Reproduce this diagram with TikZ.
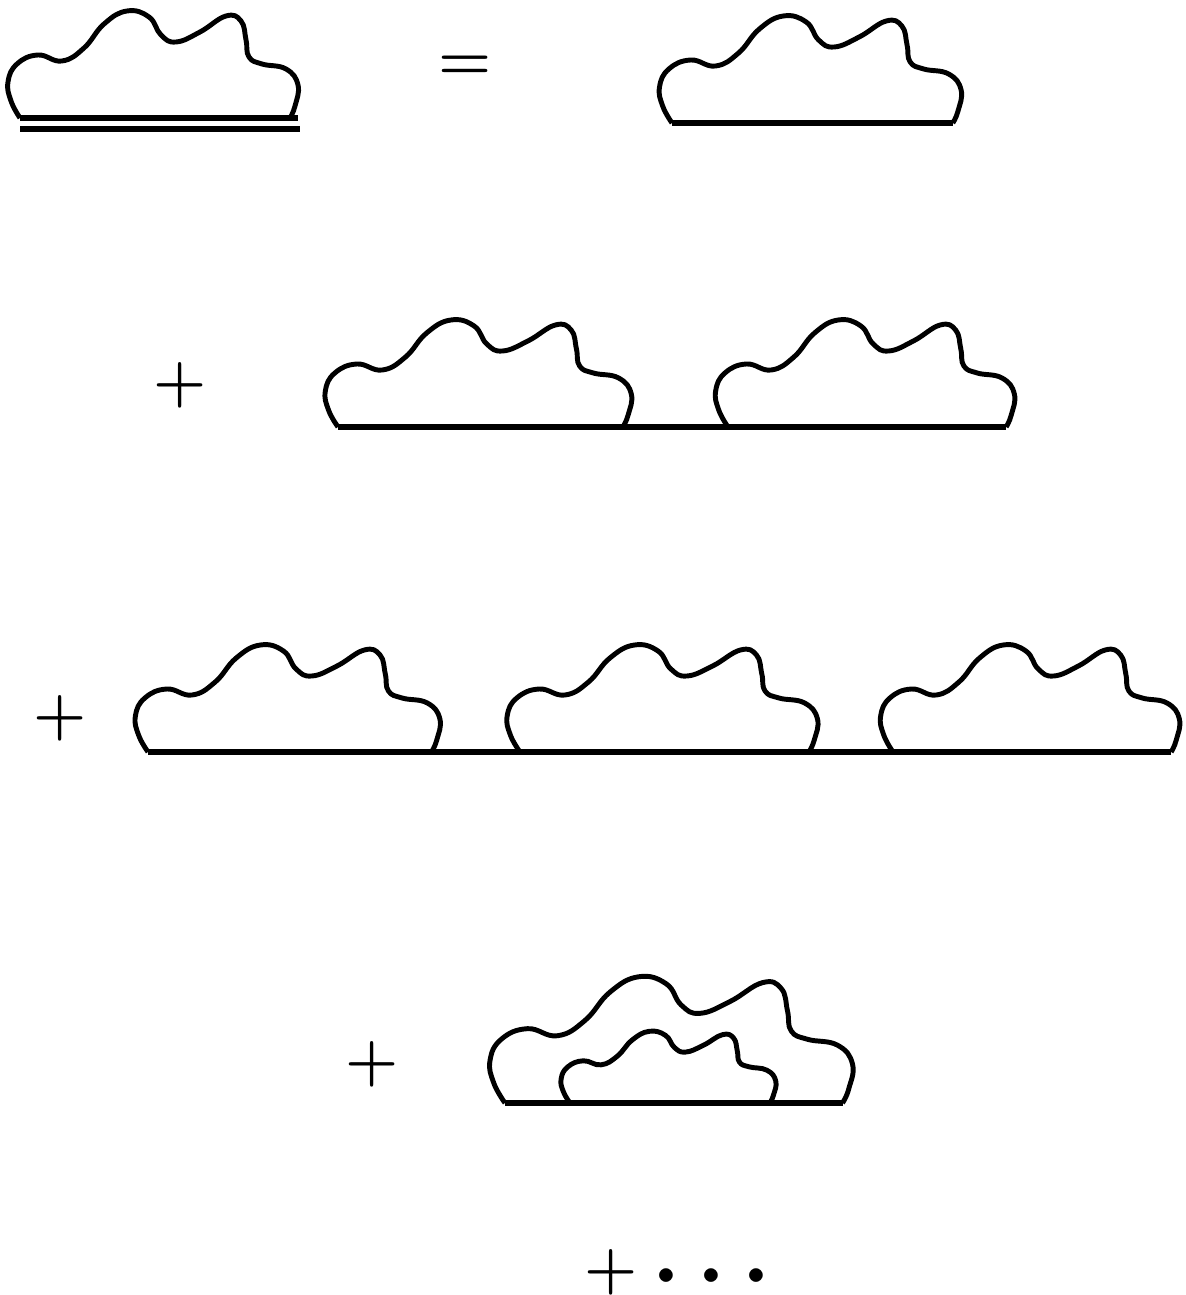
\documentclass[tikz,border=0pt]{standalone}
\usepackage{amsmath,amssymb}
\usepackage{tikz}
\usetikzlibrary{positioning}

\tikzset{
  cloud/.pic={
    \draw[line width=1.4pt, line join=round]
      plot[smooth, tension=0.75] coordinates {(0,0) (-9,-17) (-12,-36)
        (-3,-54) (18,-63) (42,-57) (64,-70) (84,-94) (107,-107)
        (129,-101) (141,-83) (156,-76) (180,-86) (206,-102)
        (221,-97) (226,-78) (229,-61) (242,-54) (266,-49) (278,-33)
        (275,-12) (270,0)};
    \coordinate (-l) at (0,0);
    \coordinate (-r) at (270,0);
  },
  sym/.style={font=\fontsize{17}{20}\selectfont\boldmath, inner sep=0pt},
  baseline/.style={line width=1.6pt}
}

\begin{document}
\begin{tikzpicture}[x=0.01cm, y=-0.01cm]
  \useasboundingbox (0,0) rectangle (1186,1295);

  % dressed line = bare line
  \pic (a1) at (20,118) {cloud};
  \draw[baseline] (a1-l) -- ([xshift=0.08cm]a1-r);
  \draw[baseline] ([yshift=-0.11cm]a1-l) -- ([yshift=-0.11cm, xshift=0.1cm]a1-r);
  \node[sym] (eq) at (465,68) {$=$};
  \pic[xscale=1.04] (a2) at (672,123) {cloud};
  \draw[baseline] (a2-l) -- (a2-r);

  % two blobs in a row
  \node[sym] (p2) at (180,385) {$+$};
  \pic[xscale=1.055] (b1) at (338,427) {cloud};
  \pic[xscale=1.03] (b2) at (728,427) {cloud};
  \draw[baseline] (b1-l) -- (b2-r);

  % three blobs in a row
  \node[sym] (p3) at (60,718) {$+$};
  \pic[xscale=1.05] (c1) at (148,752) {cloud};
  \pic[xscale=1.07] (c2) at (520,752) {cloud};
  \pic[xscale=1.03] (c3) at (893,752) {cloud};
  \draw[baseline] (c1-l) -- (c3-r);

  % nested blobs
  \node[sym] (p4) at (372,1064) {$+$};
  \pic[xscale=1.25, yscale=1.18] (d1) at (505,1103) {cloud};
  \pic[xscale=0.74, yscale=0.67] (d2) at (570,1103) {cloud};
  \draw[baseline] (d1-l) -- (d1-r);

  % and so on
  \node[sym] (p5) at (611,1272) {$+$};
  \node[font=\fontsize{24}{28}\selectfont\boldmath, inner sep=0pt]
    (dots) at (720,1277) {$\cdots$};
\end{tikzpicture}
\end{document}
